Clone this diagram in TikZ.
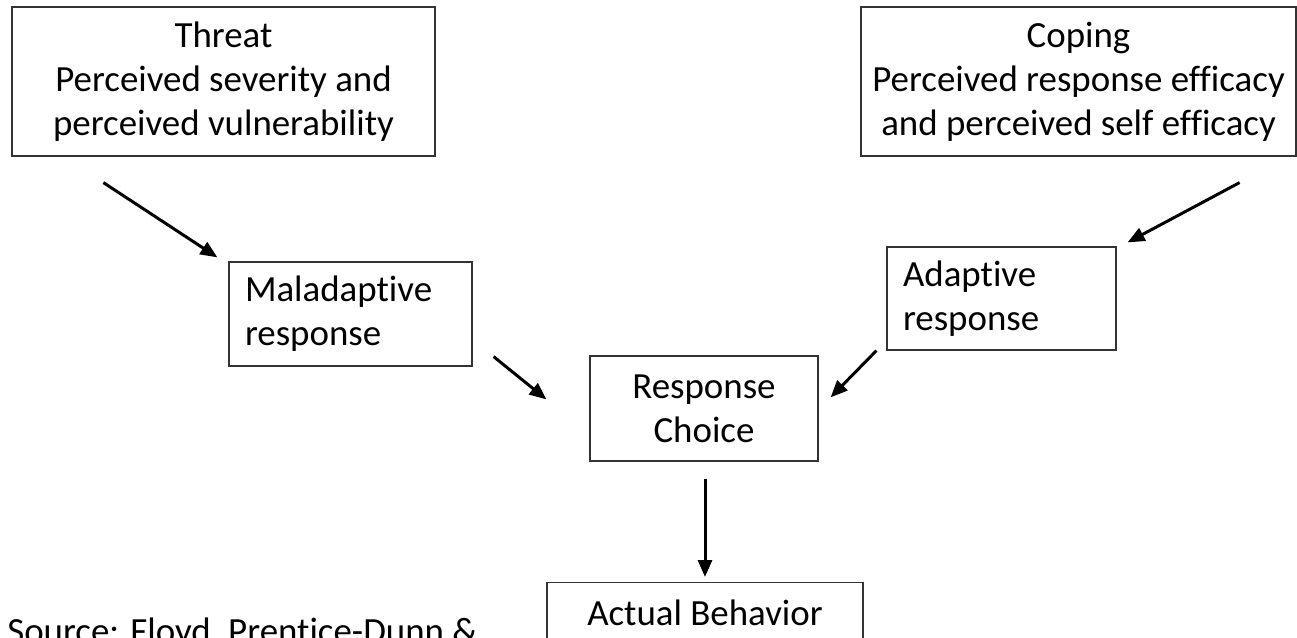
\documentclass[tikz,border=0pt]{standalone}
\usepackage{fontspec}
\setmainfont{Carlito}[Ligatures=NoCommon]
\usepackage{tikz}
\usetikzlibrary{arrows.meta,positioning,calc}

\begin{document}
\begin{tikzpicture}[
  x=0.02cm, y=-0.02cm,
  box/.style={draw=black!80, line width=0.7pt, inner sep=0pt, align=center,
    font=\fontsize{21}{25}\selectfont},
  lbox/.style={box, align=left, inner xsep=0.32cm},
  arr/.style={-{Triangle[length=0.34cm, width=0.28cm]}, line width=1.7pt}
]
  \useasboundingbox (0,0) rectangle (1297,638);
  \clip (0,0) rectangle (1297,638);
  \node[box, minimum width=8.46cm, minimum height=2.98cm] (threat) at (223.5, 81.5)
    {Threat\\Perceived severity and\\perceived vulnerability};
  \node[box, minimum width=8.7cm, minimum height=2.98cm] (coping) at (1078.5, 81.5)
    {Coping\\Perceived response efficacy\\and perceived self efficacy};
  \node[lbox, text width=4.22cm, minimum height=2.08cm] (mal) at (350.5, 314)
    {Maladaptive\\response};
  \node[lbox, text width=3.94cm, minimum height=2.06cm] (adapt) at (1001.5, 298.5)
    {Adaptive\\response};
  \node[box, minimum width=4.56cm, minimum height=2.1cm] (choice) at (704, 408.5)
    {Response\\Choice};
  \node[box, minimum width=6.32cm, minimum height=2.1cm, anchor=north] (actual) at (705, 582)
    {Actual Behavior\\[0pt]\phantom{X}};
  \node[anchor=base west, inner sep=0pt, font=\fontsize{21}{25}\selectfont] (src) at (7, 643)
    {Source: Floyd, Prentice-Dunn \&};
  \draw[arr] ([shift={(92,26)}]threat.south west) -- ([shift={(-11,-4)}]mal.north west);
  \draw[arr] ([shift={(21,-10)}]mal.south east) -- ([shift={(-43,44)}]choice.north west);
  \draw[arr] ([shift={(-57,26)}]coping.south east) -- ([shift={(11,-4)}]adapt.north east);
  \draw[arr] ([shift={(-10,0)}]adapt.south west) -- ([shift={(12,42)}]choice.north east);
  \draw[arr] ([shift={(1,17)}]choice.south) -- ([shift={(0,-5)}]actual.north);
\end{tikzpicture}
\end{document}
